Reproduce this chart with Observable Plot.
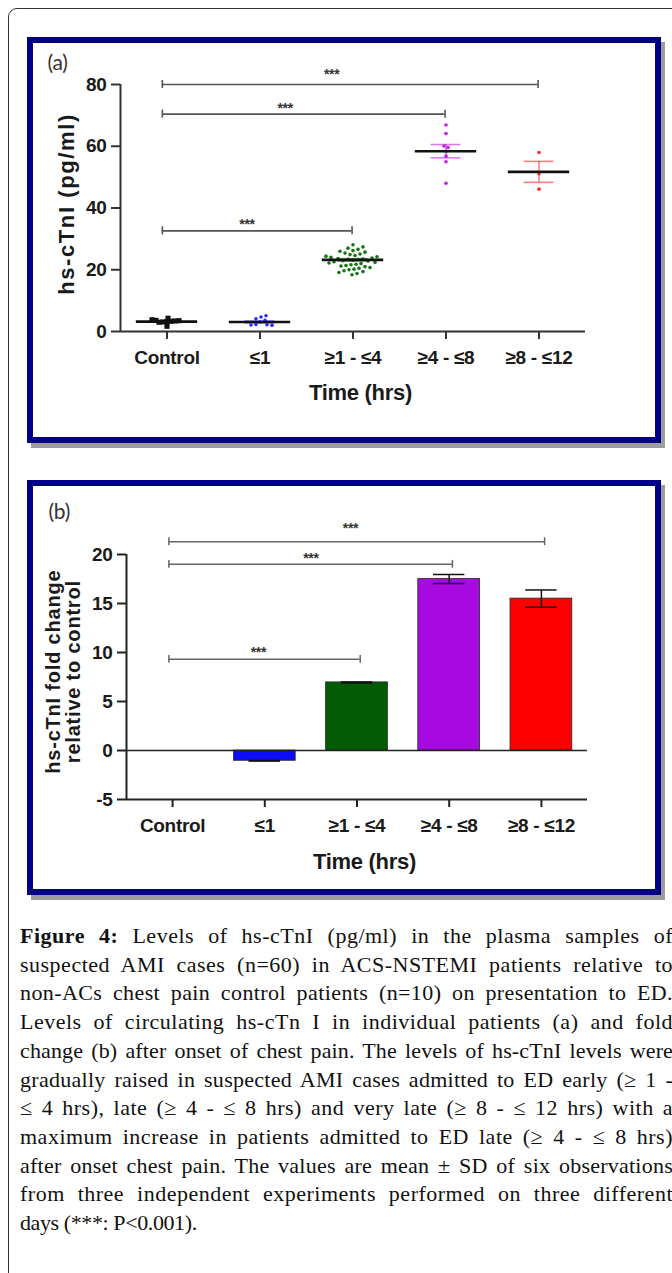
<!DOCTYPE html>
<html>
<head>
<meta charset="utf-8">
<script src="https://cdn.jsdelivr.net/npm/d3@7"></script>
<script src="https://cdn.jsdelivr.net/npm/@observablehq/plot@0.6"></script>
<style>
html, body { margin: 0; padding: 0; background: #fff; width: 672px; height: 1273px; overflow: hidden; position: relative; }
#outer { position: absolute; left: 8px; top: 8px; width: 720px; height: 1320px; border: 1px solid #333; border-radius: 9px; box-sizing: border-box; }
.panel { position: absolute; left: 27px; width: 634px; border: 6px solid #000080; box-sizing: border-box; background: #fff; box-shadow: 4px 5px 0 #9c9c9c; }
#pa { top: 37px; height: 406px; }
#pb { top: 480px; height: 415px; }
.panel svg { position: absolute; left: 0; top: 0; }
#caption { position: absolute; left: 20px; top: 922px; width: 653px; font-family: "Liberation Serif", "Times New Roman", serif; font-size: 22px; letter-spacing: -0.4px; line-height: 28.7px; color: #111; }
#caption div { white-space: nowrap; text-align: justify; text-align-last: justify; }
#caption div.last { text-align-last: left; }
</style>
</head>
<body>
<div id="outer"></div>
<div class="panel" id="pa"></div>
<div class="panel" id="pb"></div>
<div id="caption">
  <div><b>Figure 4:</b> Levels of hs-cTnI (pg/ml) in the plasma samples of</div>
  <div>suspected AMI cases (n=60) in ACS-NSTEMI patients relative to</div>
  <div>non-ACs chest pain control patients (n=10) on presentation to ED.</div>
  <div>Levels of circulating hs-cTn I in individual patients (a) and fold</div>
  <div>change (b) after onset of chest pain. The levels of hs-cTnI levels were</div>
  <div>gradually raised in suspected AMI cases admitted to ED early (≥ 1 -</div>
  <div>≤ 4 hrs), late (≥ 4 - ≤ 8 hrs) and very late (≥ 8 - ≤ 12 hrs) with a</div>
  <div>maximum increase in patients admitted to ED late (≥ 4 - ≤ 8 hrs)</div>
  <div>after onset chest pain. The values are mean ± SD of six observations</div>
  <div>from three independent experiments performed on three different</div>
  <div class="last">days (***: P&lt;0.001).</div>
</div>
<script>
// ---------------- DATA ----------------
const categories = ["Control", "≤1", "≥1 - ≤4", "≥4 - ≤8", "≥8 - ≤12"];

// Panel (a): individual hs-cTnI levels (pg/ml)
const controlLevels = [4.3, 3.8, 3.6, 3.5, 3.4, 3.3, 3.2, 3.1, 3.0, 1.7];
const under1Levels = [5.1, 4.7, 4.1, 3.6, 3.1, 2.3, 2.2, 2.1, 2.0];
const from1to4Levels = [28.1, 27.4, 27.0, 26.6, 26.2, 26.0, 25.7, 25.4, 25.1, 24.9,
  24.6, 24.4, 24.2, 24.0, 23.8, 23.6, 23.5, 23.4, 23.3, 23.1,
  22.9, 22.8, 22.6, 22.4, 22.2, 22.0, 21.8, 21.6, 21.4, 21.2,
  21.0, 20.7, 20.5, 20.2, 20.0, 19.7, 19.4, 19.1, 18.8, 18.4];
const from4to8Levels = [66.9, 64.1, 60.1, 59.6, 58.4, 56.8, 55.0, 48.0];
const from8to12Levels = [58.0, 51.1, 46.1];
const meanLevels = [3.2, 3.1, 23.2, 58.4, 51.7];
const semLevels = [0.15, 0.3, 0.4, 2.15, 3.4];
const yTicksA = [0, 20, 40, 60, 80];

// Panel (b): fold change relative to control
const foldChange = [0, -1.05, 6.95, 17.5, 15.5];
const foldSD = [0, 0.03, 0.05, 0.46, 0.88];
const yTicksB = [-5, 0, 5, 10, 15, 20];

// Significance brackets (category index from/to, bracket level, star label position)
const sigFromA = [0, 0, 0];
const sigToA = [4, 3, 2];
const sigLevelA = [80, 70.4, 32.6];
const sigStarXA = [1.77, 1.27, 0.86];
const sigStarYA = [84.3, 73.2, 35.7];

const sigFromB = [0, 0, 0];
const sigToB = [4, 3, 2];
const sigLevelB = [21.3, 19.0, 9.3];
const sigStarXB = [1.93, 1.5, 0.93];
const sigStarYB = [23.0, 19.93, 10.3];

const xLabel = "Time (hrs)";
const yLabelA = "hs-cTnI (pg/ml)";
const yLabelB = "hs-cTnI fold change\nrelative to control";

// ---------------- LAYOUT / STYLE ----------------
const fontSans = "'Liberation Sans', Arial, Helvetica, sans-serif";
const dotColors = ["#111111", "#2a2aff", "#177417", "#c01fe6", "#ff2a2a"];
const barColors = ["#ffffff", "#0c0cfa", "#035c03", "#a70ae0", "#ff0000"];
const xDomain = [-0.5, categories.length - 0.5];
const xIdx = d3.range(categories.length);
const svgStyle = {fontFamily: fontSans, fontSize: "19px", fontWeight: "bold", letterSpacing: "-0.3px", color: "#1a1a1a", background: "transparent", overflow: "visible"};

function swarm(vals, center, pxY, pxX, minD) {
  const order = d3.range(vals.length).sort((a, b) => Math.abs(vals[a] - center) - Math.abs(vals[b] - center));
  const placed = [];
  const offs = new Array(vals.length);
  for (const j of order) {
    const py = vals[j] * pxY;
    let off = 0;
    for (let k = 0; k < 400; k++) {
      off = k === 0 ? 0 : (k % 2 ? 1 : -1) * Math.ceil(k / 2) * 1.0;
      if (placed.every(p => (p.x - off) ** 2 + (p.y - py) ** 2 >= minD * minD)) break;
    }
    placed.push({x: off, y: py});
    offs[j] = off / pxX;
  }
  return offs;
}

function brackets(from, to, level, starX, starY, leftInset, rightInset) {
  return from.map((f, k) => ({x1: f + leftInset, x2: to[k] + rightInset, y: level[k], sx: starX[k], sy: starY[k]}));
}

// ---------------- PANEL (a) ----------------
{
  const W = 622, H = 394, mt = 41, mr = 70, mb = 106, ml = 87;
  const yDom = [0, 80];
  const pxY = (H - mt - mb) / (yDom[1] - yDom[0]);
  const pxX = (W - ml - mr) / (xDomain[1] - xDomain[0]);
  const groups = [controlLevels, under1Levels, from1to4Levels, from4to8Levels, from8to12Levels];
  const minDs = [3.4, 4.6, 5.0, 4.0, 4.0];
  const points = [];
  groups.forEach((vals, i) => {
    const offs = swarm(vals, meanLevels[i], pxY, pxX, minDs[i]);
    vals.forEach((v, j) => points.push({cat: categories[i], i, v, x: i + offs[j]}));
  });
  const summary = categories.map((c, i) => ({cat: c, i, m: meanLevels[i], e: semLevels[i]}));
  const sig = brackets(sigFromA, sigToA, sigLevelA, sigStarXA, sigStarYA, -0.05, -0.01);
  const capH = 1.3;

  const chart = Plot.plot({
    width: W, height: H, marginTop: mt, marginRight: mr, marginBottom: mb, marginLeft: ml,
    x: {domain: xDomain, axis: null},
    y: {domain: yDom, axis: null},
    color: {domain: categories, range: dotColors},
    style: svgStyle,
    marks: [
      Plot.ruleX([xDomain[0]], {y1: yDom[0], y2: yDom[1], stroke: "#333", strokeWidth: 2}),
      Plot.ruleY([yDom[0]], {stroke: "#333", strokeWidth: 2}),
      Plot.axisY({ticks: yTicksA, tickFormat: d => String(d), tickSize: 9, tickPadding: 5, fontSize: 19, fontWeight: "bold", strokeWidth: 2, stroke: "#333", label: null}),
      Plot.axisX({ticks: xIdx, tickFormat: i => categories[i], tickSize: 8, tickPadding: 11, fontSize: 19, fontWeight: "bold", strokeWidth: 2, stroke: "#333", label: null}),
      // significance brackets
      Plot.ruleY(sig, {y: "y", x1: "x1", x2: "x2", stroke: "#555", strokeWidth: 1.6}),
      Plot.ruleX(sig, {x: "x1", y1: d => d.y - capH, y2: d => d.y + capH, stroke: "#555", strokeWidth: 1.6}),
      Plot.ruleX(sig, {x: "x2", y1: d => d.y - capH, y2: d => d.y + capH, stroke: "#555", strokeWidth: 1.6}),
      Plot.text(sig, {x: "sx", y: "sy", text: () => "***", fontSize: 14, fontWeight: "bold", fill: "#333", dy: 3}),
      // SEM error bars
      Plot.ruleX(summary, {x: "i", y1: d => d.m - d.e, y2: d => d.m + d.e, stroke: "cat", strokeOpacity: 0.6, strokeWidth: 1.6}),
      Plot.ruleY(summary, {y: d => d.m + d.e, x1: d => d.i - 0.16, x2: d => d.i + 0.16, stroke: "cat", strokeOpacity: 0.6, strokeWidth: 1.6}),
      Plot.ruleY(summary, {y: d => d.m - d.e, x1: d => d.i - 0.16, x2: d => d.i + 0.16, stroke: "cat", strokeOpacity: 0.6, strokeWidth: 1.6}),
      // individual points
      Plot.dot(points.filter(d => d.i === 0), {x: "x", y: "v", fill: "cat", r: 2.9, symbol: "square"}),
      Plot.dot(points.filter(d => d.i > 0), {x: "x", y: "v", fill: "cat", r: 1.8}),
      // mean lines
      Plot.ruleY(summary, {y: "m", x1: d => d.i - 0.33, x2: d => d.i + 0.33, stroke: "#111", strokeWidth: 2.6}),
      // labels
      Plot.text([yLabelA], {frameAnchor: "left", textAnchor: "middle", lineAnchor: "middle", rotate: -90, dx: -54, dy: -4, fontSize: 22, fontWeight: "bold", fill: "#1a1a1a"}),
      Plot.text([xLabel], {frameAnchor: "bottom", textAnchor: "middle", lineAnchor: "middle", dx: 7.5, dy: 61.6, fontSize: 22, fontWeight: "bold", fill: "#1a1a1a"}),
      Plot.text(["(a)"], {frameAnchor: "top-left", textAnchor: "start", lineAnchor: "middle", dx: -73, dy: -21, fontSize: 21, fontWeight: "normal", fontFamily: "Lato, 'Open Sans', sans-serif", fill: "#3a3030"})
    ]
  });
  chart.querySelectorAll("text").forEach(t => { if (t.textContent.startsWith("hs-cTnI")) t.style.letterSpacing = "1.6px"; });
  document.getElementById("pa").appendChild(chart);
}

// ---------------- PANEL (b) ----------------
{
  const W = 622, H = 403, mt = 68, mr = 68, mb = 90, ml = 93;
  const yDom = [-5, 20];
  const bars = categories.map((c, i) => ({cat: c, i, v: foldChange[i], e: foldSD[i]}));
  const shown = bars.filter(d => d.v !== 0);
  const sig = brackets(sigFromB, sigToB, sigLevelB, sigStarXB, sigStarYB, -0.04, 0.035);
  const capH = 0.4;

  const chart = Plot.plot({
    width: W, height: H, marginTop: mt, marginRight: mr, marginBottom: mb, marginLeft: ml,
    x: {domain: xDomain, axis: null},
    y: {domain: yDom, axis: null},
    color: {domain: categories, range: barColors},
    style: svgStyle,
    marks: [
      Plot.rectY(shown, {x1: d => d.i - 0.335, x2: d => d.i + 0.335, y1: 0, y2: "v", fill: "cat", stroke: "#2a2a2a", strokeWidth: 0.8}),
      Plot.ruleX(shown, {x: "i", y1: d => d.v - d.e, y2: d => d.v + d.e, stroke: "#111", strokeWidth: 1.5}),
      Plot.ruleY(shown, {y: d => d.v + d.e, x1: d => d.i - 0.17, x2: d => d.i + 0.17, stroke: "#111", strokeWidth: 1.5}),
      Plot.ruleY(shown, {y: d => d.v - d.e, x1: d => d.i - 0.17, x2: d => d.i + 0.17, stroke: "#111", strokeWidth: 1.5}),
      Plot.ruleX([xDomain[0]], {y1: yDom[0], y2: yDom[1], stroke: "#222", strokeWidth: 2}),
      Plot.ruleY([yDom[0]], {stroke: "#222", strokeWidth: 2}),
      Plot.ruleY([0], {stroke: "#222", strokeWidth: 1.6}),
      Plot.axisY({ticks: yTicksB, tickFormat: d => String(d), tickSize: 9, tickPadding: 5, fontSize: 19, fontWeight: "bold", strokeWidth: 2, stroke: "#222", label: null}),
      Plot.axisX({ticks: xIdx, tickFormat: i => categories[i], tickSize: 8, tickPadding: 11, fontSize: 19, fontWeight: "bold", strokeWidth: 2, stroke: "#222", label: null}),
      Plot.ruleY(sig, {y: "y", x1: "x1", x2: "x2", stroke: "#666", strokeWidth: 1.5}),
      Plot.ruleX(sig, {x: "x1", y1: d => d.y - capH, y2: d => d.y + capH, stroke: "#666", strokeWidth: 1.5}),
      Plot.ruleX(sig, {x: "x2", y1: d => d.y - capH, y2: d => d.y + capH, stroke: "#666", strokeWidth: 1.5}),
      Plot.text(sig, {x: "sx", y: "sy", text: () => "***", fontSize: 14, fontWeight: "bold", fill: "#333", dy: 3}),
      Plot.text([yLabelB], {frameAnchor: "left", textAnchor: "middle", lineAnchor: "middle", rotate: -90, dx: -62.6, dy: -5.3, fontSize: 20, lineHeight: 1.0, fontWeight: "bold", fill: "#1a1a1a"}),
      Plot.text([xLabel], {frameAnchor: "bottom", textAnchor: "middle", lineAnchor: "middle", dx: 7.5, dy: 62.5, fontSize: 22, fontWeight: "bold", fill: "#1a1a1a"}),
      Plot.text(["(b)"], {frameAnchor: "top-left", textAnchor: "start", lineAnchor: "middle", dx: -78, dy: -42, fontSize: 21, fontWeight: "normal", fontFamily: "Lato, 'Open Sans', sans-serif", fill: "#3a3030"})
    ]
  });
  chart.querySelectorAll("text").forEach(t => { if (t.textContent.startsWith("hs-cTnI")) t.style.letterSpacing = "0.8px"; });
  document.getElementById("pb").appendChild(chart);
}

// ---------------- CAPTION: share slack between letters and word gaps ----------------
{
  const boxW = 653, baseLS = -0.4;
  document.querySelectorAll("#caption div:not(.last)").forEach(div => {
    const html = div.innerHTML;
    div.style.textAlign = "left";
    div.style.textAlignLast = "left";
    const probe = document.createElement("span");
    probe.innerHTML = html;
    div.innerHTML = "";
    div.appendChild(probe);
    const natural = probe.getBoundingClientRect().width;
    const nChars = probe.textContent.length;
    div.innerHTML = html;
    div.style.textAlign = "";
    div.style.textAlignLast = "";
    const slack = boxW - natural;
    if (slack > 0) {
      const extra = Math.min(0.9, 0.55 * slack / nChars);
      div.style.letterSpacing = (baseLS + extra) + "px";
    }
  });
}
</script>
</body>
</html>
